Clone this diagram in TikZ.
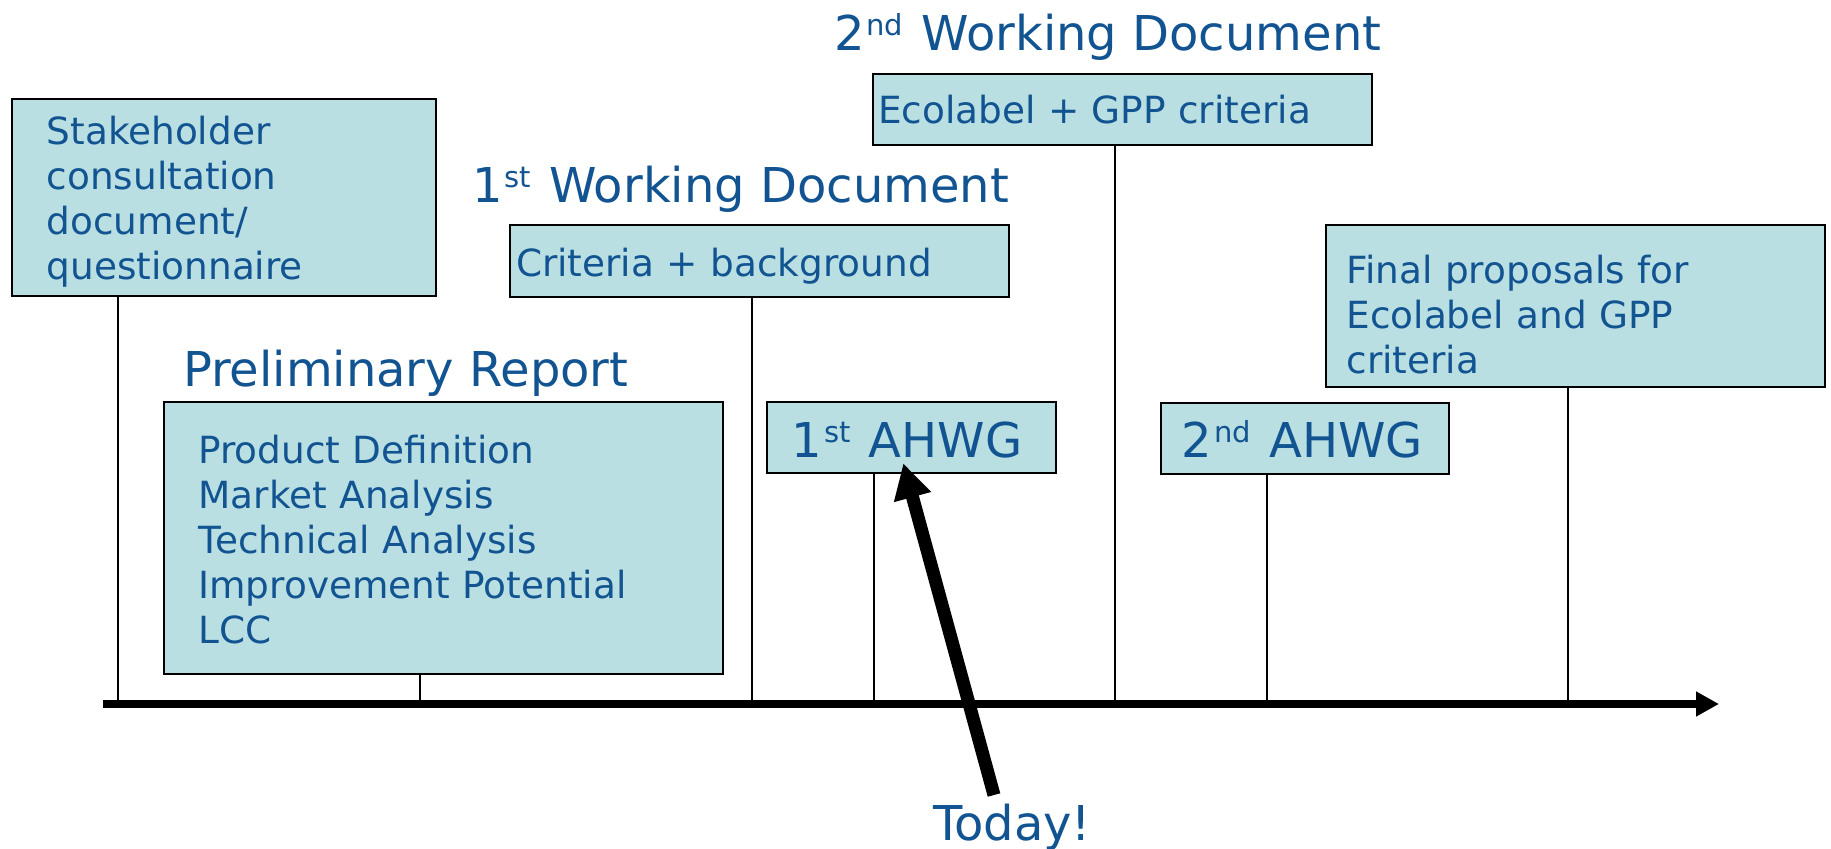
\documentclass[tikz,border=0pt]{standalone}
\usepackage{fontspec}
\setmainfont{DejaVu Sans}
\usetikzlibrary{arrows.meta}
\definecolor{txtblue}{RGB}{17,84,145}
\definecolor{boxfill}{RGB}{186,223,226}
\newcommand\mysup[1]{\hspace{1pt}\raisebox{7.6pt}{\fontsize{14.5pt}{16pt}\selectfont #1}\hspace{1.5pt}}
\begin{document}
\begin{tikzpicture}[x=0.5pt,y=-0.5pt,
  box/.style={draw=black, fill=boxfill, line width=1pt, inner sep=0pt, outer sep=0pt, anchor=north west},
  body/.style={text=txtblue, font=\fontsize{18.7pt}{22.5pt}\selectfont, inner sep=0pt, outer sep=0pt, anchor=base west, align=left, text width=240pt},
  big/.style={text=txtblue, font=\fontsize{24pt}{29pt}\selectfont, inner sep=0pt, outer sep=0pt, anchor=base west},
  stem/.style={draw=black, line width=1pt},
]
\useasboundingbox (0,0) rectangle (1831,849);

% boxes
\node[box, minimum width=212pt,   minimum height=98.35pt] (sh)  at (11.7,99) {};
\node[box, minimum width=279.65pt, minimum height=136pt]  (pr)  at (163.5,401.7) {};
\node[box, minimum width=249.5pt, minimum height=35.6pt]  (cr)  at (510,225.4) {};
\node[box, minimum width=249.5pt, minimum height=35.6pt]  (eco) at (873,73.6) {};
\node[box, minimum width=144.2pt, minimum height=35.8pt]  (ah1) at (767.3,401.7) {};
\node[box, minimum width=144.2pt, minimum height=35.5pt]  (ah2) at (1160.7,403) {};
\node[box, minimum width=249.5pt, minimum height=80.8pt]  (fin) at (1326,225.4) {};

% texts
\node[body] (sht) at (46.7,144.3) {Stakeholder\\consultation\\document/\\questionnaire};
\node[big]  (prt) at (183,387) {Preliminary Report};
\node[body] (prl) at (198.5,464) {Product Definition\\Market Analysis\\Technical Analysis\\Improvement Potential\\LCC};
\node[big]  (w1t) at (472,203) {1\mysup{st} Working Document};
\node[body] (crt) at (516,277) {Criteria + background};
\node[big]  (w2t) at (834,51) {2\mysup{nd} Working Document};
\node[body] (ect) at (878,124) {Ecolabel + GPP criteria};
\node[big]  (a1t) at (791.7,458) {1\mysup{st} AHWG};
\node[big]  (a2t) at (1181.7,458) {2\mysup{nd} AHWG};
\node[body] (fnt) at (1346.5,283.5) {Final proposals for\\Ecolabel and GPP\\criteria};
\node[big]  (tdy) at (933,840) {Today!};

% axis coordinates
\coordinate (t1) at (117.7,702);
\coordinate (t2) at (420,702);
\coordinate (t3) at (752,702);
\coordinate (t4) at (873.5,702);
\coordinate (t5) at (1115,702);
\coordinate (t6) at (1267,702);
\coordinate (t7) at (1567.5,702);
\coordinate (a0) at (103,704);
\coordinate (a1) at (1719,704);

% stems
\draw[stem] (t1 |- sh.south)  -- (t1);
\draw[stem] (t2 |- pr.south)  -- (t2);
\draw[stem] (t3 |- cr.south)  -- (t3);
\draw[stem] (t4 |- ah1.south) -- (t4);
\draw[stem] (t5 |- eco.south) -- (t5);
\draw[stem] (t6 |- ah2.south) -- (t6);
\draw[stem] (t7 |- fin.south) -- (t7);

% time axis
\draw[line width=4.2pt, -{Triangle[length=11.4pt,width=11.7pt]}] (a0) -- (a1);

% today arrow
\coordinate (tdtail) at (994,795);
\coordinate (tdtip) at (903.3,463.3);
\draw[line width=6.5pt, -{Triangle[length=17.5pt,width=18pt]}] (tdtail) -- (tdtip);
\end{tikzpicture}
\end{document}
